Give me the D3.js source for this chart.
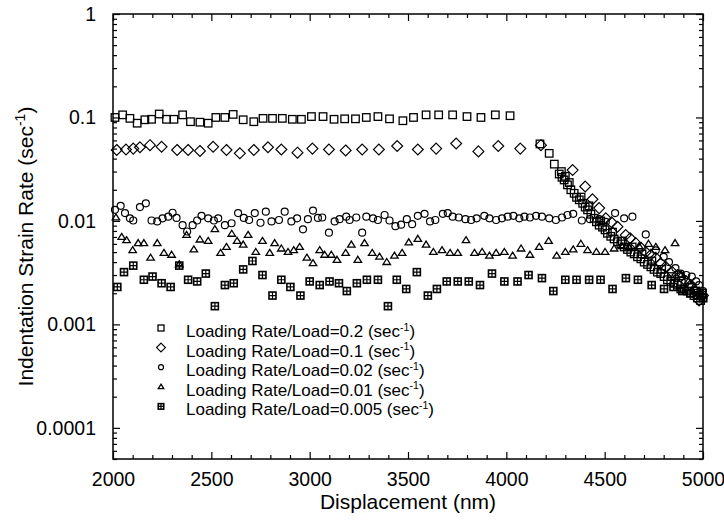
<!DOCTYPE html>
<html><head><meta charset="utf-8">
<script src="https://cdn.jsdelivr.net/npm/d3@7"></script>
<style>
body{margin:0;background:#fff;}
svg{display:block;font-family:"Liberation Sans",Arial,Helvetica,sans-serif;}
</style></head><body>
<svg id="chart" width="724" height="520"></svg>
<script>
// Indentation strain rate vs displacement, one series per loading rate/load ratio
const rate02 = [[2010,0.100],[2049,0.106],[2086,0.098],[2123,0.088],[2162,0.095],[2196,0.096],[2235,0.108],[2272,0.096],[2310,0.096],[2354,0.106],[2394,0.091],[2442,0.090],[2484,0.088],[2523,0.100],[2569,0.100],[2611,0.107],[2662,0.095],[2716,0.091],[2763,0.098],[2811,0.098],[2861,0.098],[2912,0.096],[2958,0.096],[3009,0.102],[3068,0.102],[3124,0.096],[3178,0.097],[3233,0.097],[3288,0.100],[3347,0.102],[3406,0.097],[3474,0.093],[3528,0.100],[3592,0.106],[3656,0.106],[3727,0.106],[3800,0.102],[3871,0.100],[3944,0.106],[4019,0.104],
  [4171,0.0555],[4218,0.045],[4244,0.0354],[4269,0.0284],[4283,0.0264],[4294,0.0249],[4311,0.0223],[4328,0.0200],[4345,0.0185],[4357,0.0169],[4371,0.0160],[4388,0.0148],[4401,0.0136],[4413,0.0128],[4430,0.0116],[4447,0.0106],[4458,0.0098],[4472,0.0091],[4489,0.0087],[4502,0.0082],[4514,0.0076],[4531,0.0071],[4548,0.0067],[4565,0.0063],[4582,0.0060],[4599,0.0056],[4616,0.0053],[4633,0.0050],[4650,0.0048],[4667,0.0045],[4684,0.0043],[4701,0.0040],[4718,0.0038],[4735,0.0036],[4751,0.0034],[4768,0.0032],[4785,0.0031],[4802,0.0029],[4819,0.0027],[4836,0.0026],[4853,0.0025],[4870,0.0024],[4887,0.0022],[4904,0.0022],[4921,0.0021],[4938,0.0020],[4954,0.0019],[4971,0.0018],[4988,0.0017],[5000,0.0018],
  [4280,0.030],[4300,0.027],[4320,0.0235],[4380,0.0170],[4420,0.0140],[4480,0.0100],[4540,0.0078],[4590,0.0064],[4640,0.0056],[4690,0.0048],[4740,0.0041],[4790,0.0034],[4840,0.0029],[4890,0.0025],[4930,0.0023],[4965,0.0021],[4995,0.0020]];

const rate01 = [[2019,0.0485],[2066,0.049],[2103,0.050],[2137,0.0515],[2188,0.054],[2247,0.052],[2326,0.0485],[2382,0.0485],[2442,0.0475],[2509,0.052],[2577,0.0485],[2645,0.045],[2716,0.0485],[2788,0.0515],[2856,0.049],[2938,0.0457],[3014,0.050],[3098,0.049],[3183,0.048],[3267,0.049],[3352,0.049],[3445,0.053],[3550,0.049],[3643,0.050],[3745,0.056],[3858,0.047],[3959,0.053],[4071,0.050],[4176,0.054],
  [4337,0.031],[4401,0.0215],[4438,0.0162],[4472,0.0133],[4506,0.0106],[4535,0.0097],[4565,0.0088],[4607,0.0073],[4630,0.0068],[4658,0.0061],[4685,0.0055],[4709,0.0050],[4735,0.0047],[4760,0.0044],[4785,0.0039],[4810,0.0036],[4844,0.0032],[4870,0.0030],[4887,0.0029],[4915,0.0026],[4938,0.0024],[4960,0.0021],[4980,0.0017],[5000,0.0019]];

const rate002 = [[2010,0.0128],[2039,0.014],[2061,0.0119],[2086,0.0106],[2103,0.0101],[2137,0.0136],[2167,0.0148],[2196,0.0101],[2225,0.0099],[2252,0.0106],[2281,0.0110],[2303,0.0120],[2323,0.0107],[2354,0.0091],[2377,0.0079],[2405,0.0091],[2428,0.0101],[2450,0.0112],[2484,0.0106],[2513,0.0101],[2535,0.0106],[2569,0.0091],[2603,0.0095],[2636,0.0119],[2665,0.0107],[2692,0.0102],[2721,0.0119],[2750,0.0096],[2777,0.0123],[2806,0.0099],[2844,0.0102],[2873,0.0123],[2907,0.0099],[2936,0.0106],[2966,0.0083],[2991,0.0104],[3017,0.0126],[3042,0.0107],[3064,0.0108],[3098,0.0077],[3127,0.0099],[3152,0.0104],[3186,0.0110],
  [3203,0.0102],[3237,0.0108],[3267,0.0077],[3288,0.0110],[3322,0.0106],[3347,0.0102],[3381,0.0114],[3406,0.0101],[3436,0.0089],[3465,0.0092],[3494,0.0104],[3521,0.0093],[3550,0.0112],[3584,0.0117],[3612,0.0099],[3639,0.0102],[3677,0.0117],[3702,0.0119],[3727,0.0110],[3758,0.0108],[3792,0.0104],[3821,0.0102],[3849,0.0106],[3888,0.0112],[3914,0.0106],[3948,0.0102],[3978,0.0106],[4007,0.0110],[4036,0.0112],[4066,0.0106],[4092,0.0110],[4120,0.0108],[4151,0.0112],[4181,0.0110],[4218,0.0106],[4252,0.0102],[4283,0.0108],[4311,0.0114],
  [4340,0.0117],[4384,0.0101],[4425,0.0104],[4472,0.0104],[4506,0.0098],[4553,0.0119],[4599,0.0106],[4641,0.0110],
  [4709,0.0074],[4760,0.0052],[4800,0.0045],[4827,0.0040],[4860,0.0035],[4887,0.0031],[4915,0.0030],[4943,0.0029],[4965,0.0026],[4980,0.0024],[5000,0.0021]];

const rate001 = [[2015,0.0108],[2044,0.0070],[2069,0.0065],[2100,0.0052],[2128,0.0061],[2157,0.0061],[2191,0.0044],[2225,0.0061],[2259,0.0049],[2298,0.0047],[2337,0.0038],[2374,0.0073],[2411,0.0053],[2442,0.0066],[2484,0.0064],[2518,0.0083],[2547,0.0049],[2577,0.0056],[2604,0.0075],[2631,0.0064],[2662,0.0059],[2687,0.0073],[2726,0.0050],[2760,0.0064],[2797,0.0049],[2822,0.0061],[2856,0.0054],[2890,0.0050],[2919,0.0052],[2949,0.0056],[2986,0.0044],[3017,0.0039],[3051,0.0052],[3076,0.0047],[3110,0.0047],[3139,0.0042],[3183,0.0049],
  [3212,0.0059],[3245,0.0042],[3279,0.0061],[3318,0.0049],[3355,0.0045],[3392,0.0040],[3431,0.0046],[3470,0.0049],[3504,0.0062],[3550,0.0067],[3592,0.0059],[3629,0.0050],[3673,0.0052],[3714,0.0049],[3753,0.0049],[3795,0.0065],[3838,0.0049],[3877,0.0050],[3914,0.0046],[3948,0.0049],[3990,0.0050],[4032,0.0046],[4075,0.0054],[4120,0.0047],[4167,0.0056],[4215,0.0064],[4256,0.0046],[4300,0.0050],
  [4340,0.0053],[4379,0.0060],[4413,0.0052],[4458,0.0050],[4502,0.0050],[4548,0.0054],[4587,0.0057],[4624,0.0056],[4675,0.0057],[4723,0.0060],[4760,0.0056],[4807,0.0052],[4858,0.0061],
  [4890,0.0030],[4925,0.0026],[4955,0.0023],[4980,0.0021],[5000,0.0019]];

const rate0005 = [[2022,0.0023],[2056,0.0032],[2103,0.0037],[2157,0.0027],[2201,0.0029],[2247,0.0025],[2293,0.0023],[2337,0.0037],[2382,0.0027],[2428,0.0026],[2472,0.0031],[2518,0.0015],[2569,0.0024],[2614,0.0025],[2662,0.0034],[2709,0.0041],[2760,0.0030],[2811,0.0019],[2856,0.0027],[2902,0.0023],[2953,0.0019],[3000,0.0026],[3051,0.0024],[3101,0.0026],[3149,0.0025],[3189,0.0021],[3240,0.0025],[3291,0.0027],[3347,0.0027],[3398,0.0015],[3443,0.0027],[3491,0.0022],[3545,0.0032],[3601,0.0019],[3647,0.0022],[3697,0.0026],[3753,0.0026],[3809,0.0026],[3866,0.0024],[3927,0.0031],[3990,0.0026],[4057,0.0026],[4113,0.0030],[4181,0.0028],[4239,0.0021],[4300,0.0027],[4357,0.0027],[4421,0.0027],[4479,0.0027],[4540,0.0022],[4608,0.0028],[4669,0.0027],[4739,0.0024],[4802,0.0022],[4850,0.0023],[4895,0.0021],[4935,0.0020],[4970,0.0019],[5000,0.0018]];

const seriesNames = ["Loading Rate/Load=0.2", "Loading Rate/Load=0.1", "Loading Rate/Load=0.02", "Loading Rate/Load=0.01", "Loading Rate/Load=0.005"];
const seriesShapes = ["square", "diamond", "circle", "triangle", "boxplus"];
const seriesData = [rate02, rate01, rate002, rate001, rate0005];

const xTickValues = [2000, 2500, 3000, 3500, 4000, 4500, 5000];
const xTickLabels = ["2000", "2500", "3000", "3500", "4000", "4500", "5000"];
const yTickValues = [1, 0.1, 0.01, 0.001, 0.0001];
const yTickLabels = ["1", "0.1", "0.01", "0.001", "0.0001"];
const xTitle = "Displacement (nm)";
const yTitle = "Indentation Strain Rate (sec";

const svg = d3.select("#chart");
const plot = {left: 113, right: 703, top: 14, bottom: 459};
const x = d3.scaleLinear().domain([2000, 5000]).range([plot.left, plot.right]);
const y = d3.scaleLog().domain([5e-5, 1]).range([plot.bottom, plot.top]);

// minor tick positions
const xMinor = d3.range(2100, 5000, 100).filter(v => v % 500 !== 0);
const yMinor = [];
for (let k = -5; k <= -1; k++) for (let m = 2; m <= 9; m++) {
  const v = m * Math.pow(10, k);
  if (v >= 5e-5 && v < 1) yMinor.push(v);
}

const fontTick = 19.5;
function styleAxis(g) {
  g.select(".domain").remove();
  g.selectAll("line").attr("stroke", "#000").attr("stroke-width", 1.2);
  g.selectAll("text").attr("font-size", fontTick).attr("fill", "#000")
    .attr("font-family", "'Liberation Sans', Arial, sans-serif");
}

// bottom / top axes
svg.append("g").attr("transform", `translate(0,${plot.bottom})`)
  .call(d3.axisBottom(x).tickValues(xTickValues).tickFormat((d, i) => xTickLabels[i]).tickSize(-7).tickPadding(13))
  .call(styleAxis);
svg.append("g").attr("transform", `translate(0,${plot.bottom})`)
  .call(d3.axisBottom(x).tickValues(xMinor).tickFormat("").tickSize(-4))
  .call(styleAxis);
svg.append("g").attr("transform", `translate(0,${plot.top})`)
  .call(d3.axisTop(x).tickValues(xTickValues).tickFormat("").tickSize(-7))
  .call(styleAxis);
svg.append("g").attr("transform", `translate(0,${plot.top})`)
  .call(d3.axisTop(x).tickValues(xMinor).tickFormat("").tickSize(-4))
  .call(styleAxis);

// left / right axes
svg.append("g").attr("transform", `translate(${plot.left},0)`)
  .call(d3.axisLeft(y).tickValues(yTickValues).tickFormat((d, i) => yTickLabels[i]).tickSize(-7).tickPadding(17))
  .call(styleAxis);
svg.append("g").attr("transform", `translate(${plot.left},0)`)
  .call(d3.axisLeft(y).tickValues(yMinor).tickFormat("").tickSize(-4))
  .call(styleAxis);
svg.append("g").attr("transform", `translate(${plot.right},0)`)
  .call(d3.axisRight(y).tickValues(yTickValues).tickFormat("").tickSize(-7))
  .call(styleAxis);
svg.append("g").attr("transform", `translate(${plot.right},0)`)
  .call(d3.axisRight(y).tickValues(yMinor).tickFormat("").tickSize(-4))
  .call(styleAxis);

// frame
svg.append("rect").attr("x", plot.left).attr("y", plot.top)
  .attr("width", plot.right - plot.left).attr("height", plot.bottom - plot.top)
  .attr("fill", "none").attr("stroke", "#000").attr("stroke-width", 1.5);

// marker drawing
function drawMarker(g, shape, s) {
  const sw = 1.3;
  if (shape === "square") {
    g.append("rect").attr("x", -s / 2).attr("y", -s / 2).attr("width", s).attr("height", s)
      .attr("fill", "none").attr("stroke", "#000").attr("stroke-width", sw);
  } else if (shape === "diamond") {
    const r = s * 0.68;
    g.append("path").attr("d", `M0,${-r}L${r},0L0,${r}L${-r},0Z`)
      .attr("fill", "none").attr("stroke", "#000").attr("stroke-width", sw * 0.9);
  } else if (shape === "circle") {
    g.append("circle").attr("r", s / 2).attr("fill", "none").attr("stroke", "#000").attr("stroke-width", sw * 0.9);
  } else if (shape === "triangle") {
    const h = s * 0.8;
    g.append("path").attr("d", `M0,${-h * 0.6}L${s / 2},${h * 0.4}L${-s / 2},${h * 0.4}Z`)
      .attr("fill", "none").attr("stroke", "#000").attr("stroke-width", sw);
  } else if (shape === "boxplus") {
    g.append("rect").attr("x", -s / 2).attr("y", -s / 2).attr("width", s).attr("height", s)
      .attr("fill", "none").attr("stroke", "#000").attr("stroke-width", 1.6);
    g.append("path").attr("d", `M${-s / 2},0H${s / 2}M0,${-s / 2}V${s / 2}`)
      .attr("stroke", "#000").attr("stroke-width", 1.2);
  }
}
const markerSize = {square: 7.5, diamond: 8, circle: 7, triangle: 7.5, boxplus: 7};

seriesData.forEach((data, i) => {
  const shape = seriesShapes[i];
  const g = svg.append("g").attr("class", "series-" + i);
  g.selectAll("g.pt").data(data).join("g").attr("class", "pt")
    .attr("transform", d => `translate(${x(d[0])},${y(d[1])})`)
    .each(function () { drawMarker(d3.select(this), shape, markerSize[shape]); });
});

// legend
const legendSize = {square: 6, diamond: 6.5, circle: 5, triangle: 5.5, boxplus: 5.5};
const legend = svg.append("g").attr("class", "legend");
seriesNames.forEach((name, i) => {
  const cy = 337 + i * 19.6;
  const sym = legend.append("g").attr("transform", `translate(161,${cy - 9})`);
  drawMarker(sym, seriesShapes[i], legendSize[seriesShapes[i]]);
  const t = legend.append("text").attr("x", 186).attr("y", cy)
    .attr("font-size", 17).attr("fill", "#000");
  t.append("tspan").text(name + " (sec");
  t.append("tspan").attr("font-size", 10.5).attr("dx", 0).attr("dy", -6.5).text("-1");
  t.append("tspan").attr("dy", 6.5).text(")");
});

// axis titles
svg.append("text").attr("x", (plot.left + plot.right) / 2).attr("y", 509)
  .attr("text-anchor", "middle").attr("font-size", 21).attr("fill", "#000").text(xTitle);
const yt = svg.append("text")
  .attr("transform", `translate(33,${(plot.top + plot.bottom) / 2 + 10}) rotate(-90)`)
  .attr("text-anchor", "middle").attr("font-size", 21).attr("fill", "#000");
yt.append("tspan").text(yTitle);
yt.append("tspan").attr("font-size", 14).attr("dy", -8).text("-1");
yt.append("tspan").attr("dy", 8).text(")");
</script>
</body></html>
